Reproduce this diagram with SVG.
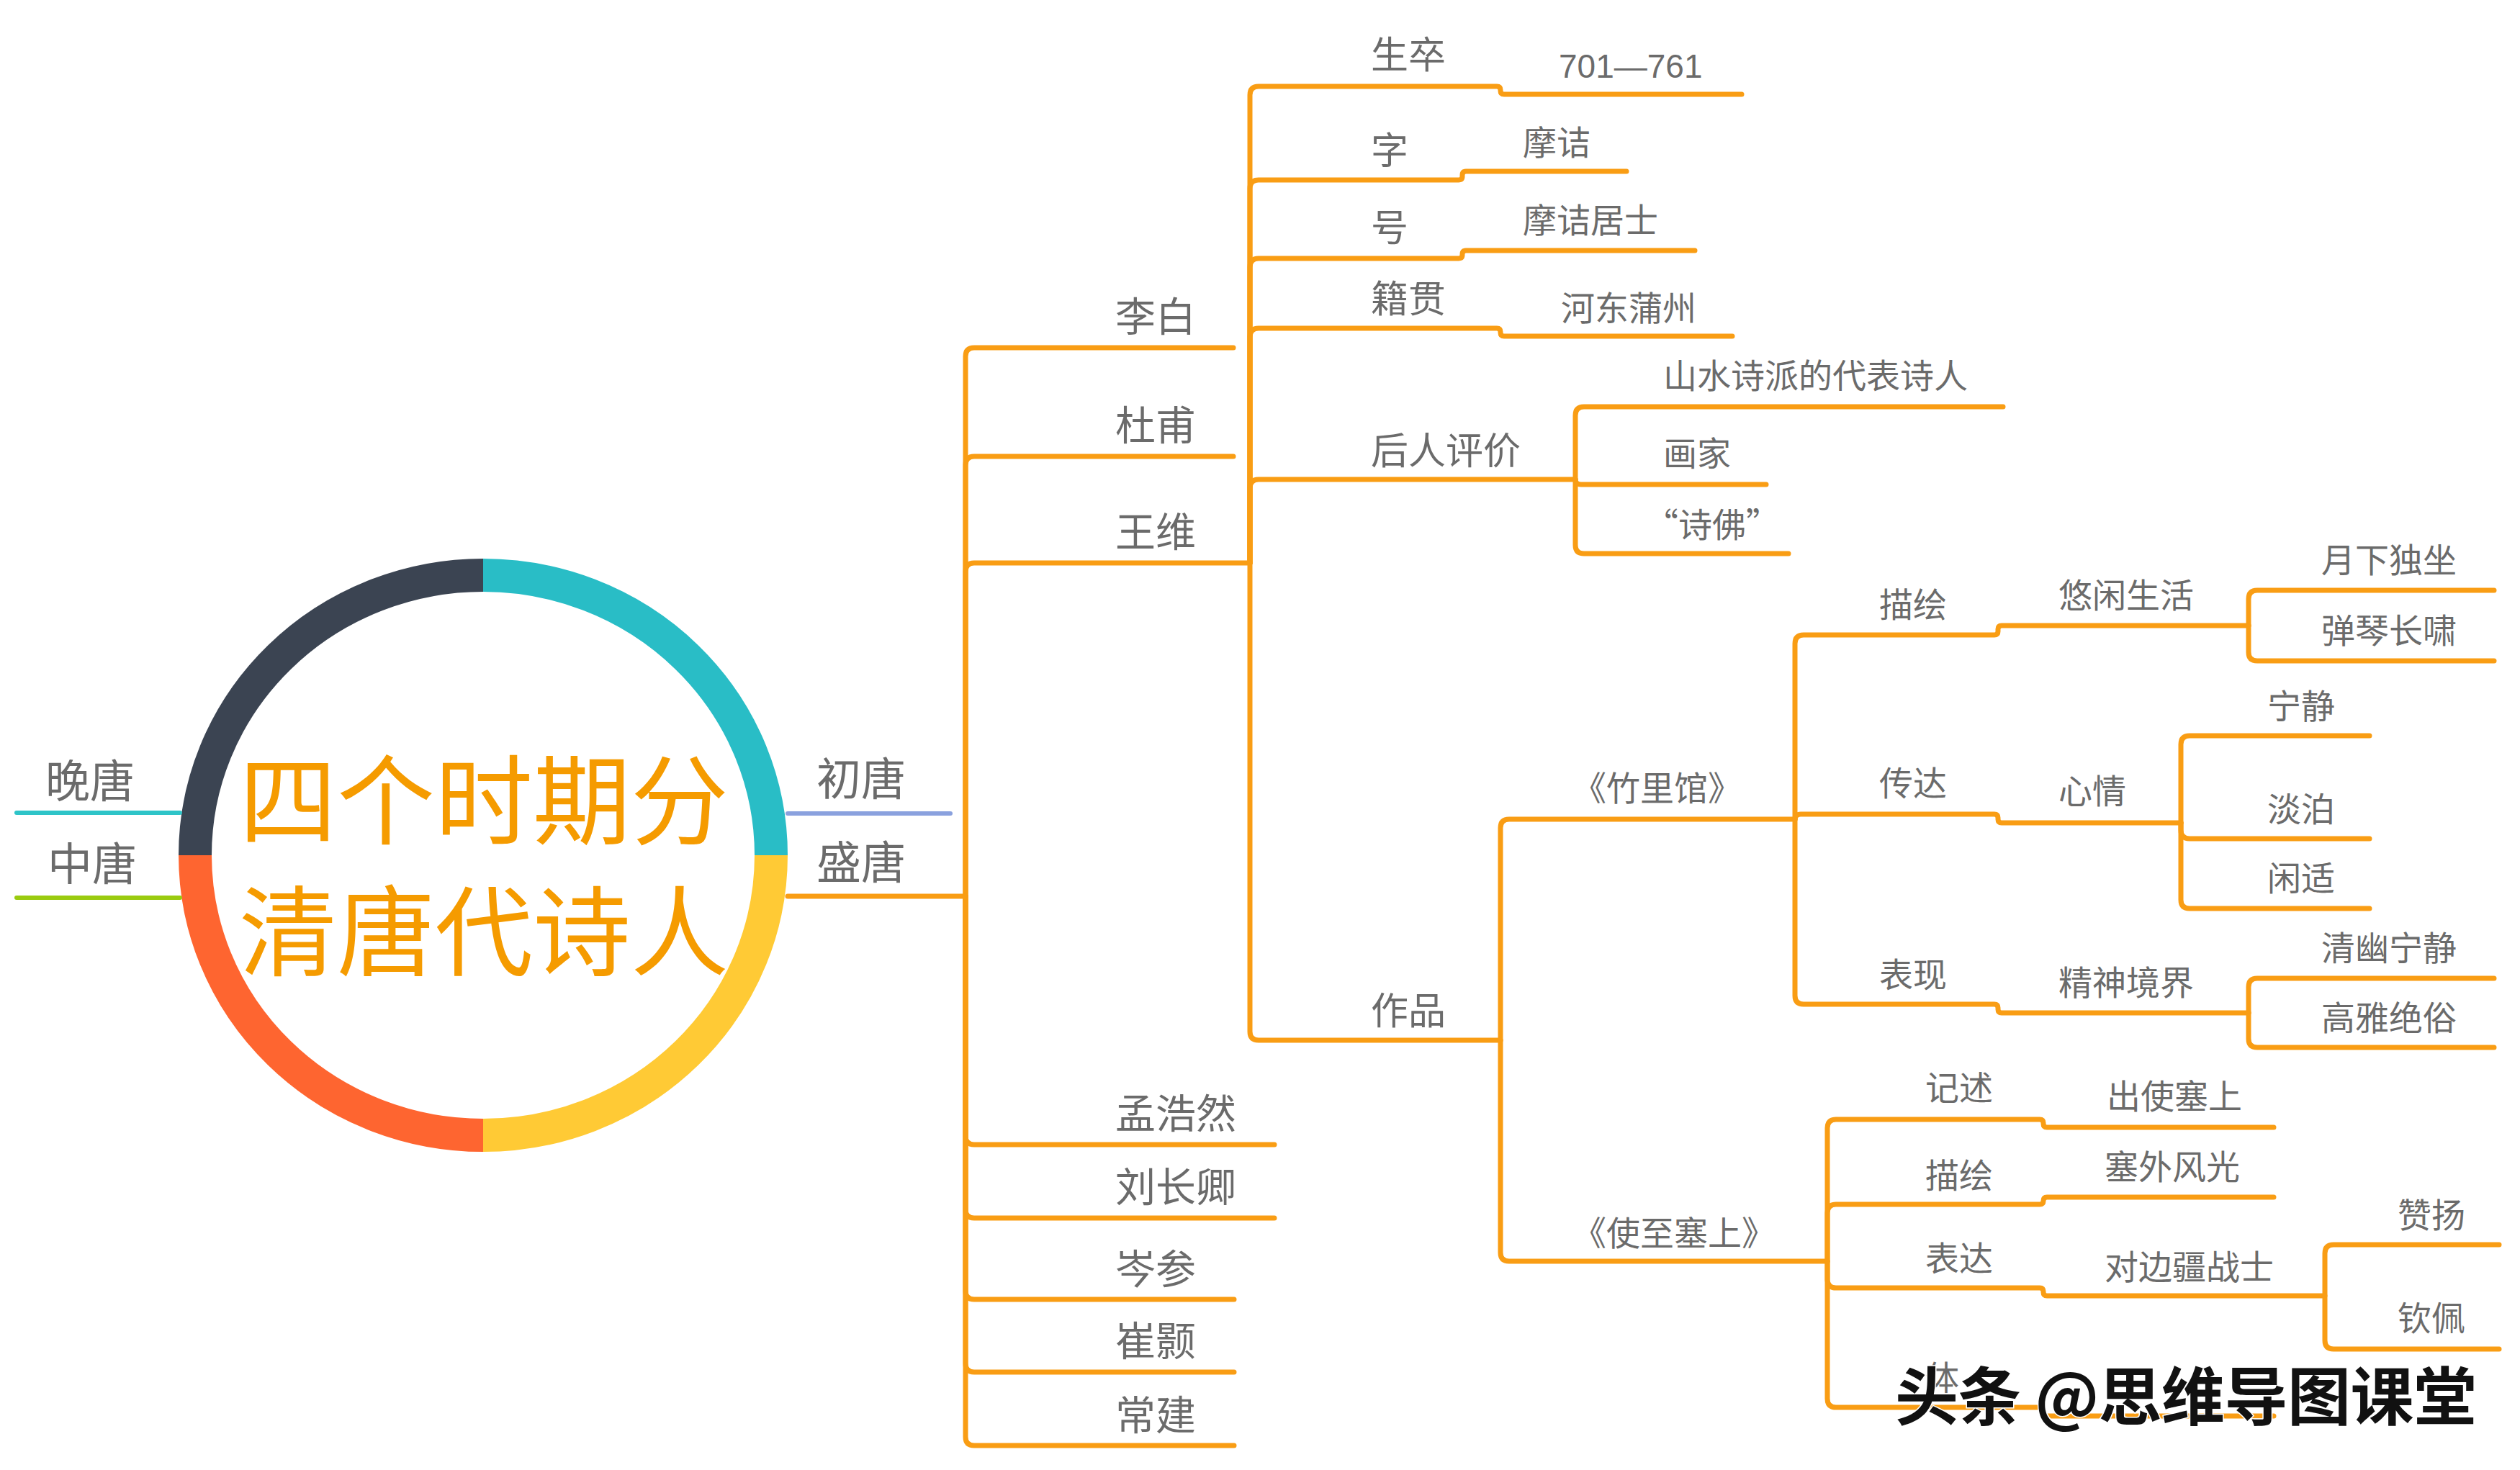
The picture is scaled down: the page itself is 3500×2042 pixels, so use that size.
<svg xmlns="http://www.w3.org/2000/svg" width="3500" height="2042" viewBox="0 0 3500 2042">
<style>
.ln{fill:none;stroke:#F99D14;stroke-width:7;stroke-linecap:round;stroke-linejoin:round}
.t{font-family:"Noto Sans CJK SC","Noto Sans CJK JP",sans-serif;fill:#6B6B6B}
.s1{font-size:62px}.s2{font-size:56px}.s3{font-size:52px}.s4{font-size:47px}
.ring{fill:none;stroke-width:46}
</style>
<rect width="3500" height="2042" fill="#FFFFFF"/>
<g id="center">
<path class="ring" stroke="#29BDC6" d="M671 799 A400 389 0 0 1 1071 1188"/>
<path class="ring" stroke="#FFCA35" d="M1071 1188 A400 389 0 0 1 671 1577"/>
<path class="ring" stroke="#FE6530" d="M671 1577 A400 389 0 0 1 271 1188"/>
<path class="ring" stroke="#3B4452" d="M271 1188 A400 389 0 0 1 671 799"/>
<text x="672" y="1163" text-anchor="middle" font-family="Noto Sans CJK SC,sans-serif" font-size="136" fill="#F59B00">四个时期分</text>
<text x="672" y="1345" text-anchor="middle" font-family="Noto Sans CJK SC,sans-serif" font-size="136" fill="#F59B00">清唐代诗人</text>
</g>
<g id="connectors">
<path d="M23 1129 H250" fill="none" stroke="#2EC4C8" stroke-width="6" stroke-linecap="round"/>
<path d="M23 1247 H250" fill="none" stroke="#9ACB0F" stroke-width="6" stroke-linecap="round"/>
<path d="M1094 1130 H1320" fill="none" stroke="#8AA1DE" stroke-width="6" stroke-linecap="round"/>
<path class="ln" d="M1094 1245 H1341"/>
<path class="ln" d="M1341 1245 V495 Q1341 483 1353 483 H1713"/>
<path class="ln" d="M1341 1245 V646 Q1341 634 1353 634 H1713"/>
<path class="ln" d="M1341 1245 V794 Q1341 782 1353 782 H1736"/>
<path class="ln" d="M1341 1245 V1578 Q1341 1590 1353 1590 H1770"/>
<path class="ln" d="M1341 1245 V1680 Q1341 1692 1353 1692 H1770"/>
<path class="ln" d="M1341 1245 V1793 Q1341 1805 1353 1805 H1714"/>
<path class="ln" d="M1341 1245 V1894 Q1341 1906 1353 1906 H1714"/>
<path class="ln" d="M1341 1245 V1996 Q1341 2008 1353 2008 H1714"/>
<path class="ln" d="M1736 782 V132 Q1736 120 1748 120 H2079 Q2084 120 2084 125 V126 Q2084 131 2089 131 H2419"/>
<path class="ln" d="M1736 782 V262 Q1736 250 1748 250 H2026 Q2031 250 2031 245 V243 Q2031 238 2036 238 H2259"/>
<path class="ln" d="M1736 782 V371 Q1736 359 1748 359 H2026 Q2031 359 2031 354 V353 Q2031 348 2036 348 H2354"/>
<path class="ln" d="M1736 782 V468 Q1736 456 1748 456 H2079 Q2084 456 2084 461 V462 Q2084 467 2089 467 H2406"/>
<path class="ln" d="M1736 782 V678 Q1736 666 1748 666 H2188"/>
<path class="ln" d="M1736 782 V1433 Q1736 1445 1748 1445 H2084"/>
<path class="ln" d="M2188 666 V577 Q2188 565 2200 565 H2782"/>
<path class="ln" d="M2188 666 Q2188 673 2196 673 H2453"/>
<path class="ln" d="M2188 666 V757 Q2188 769 2200 769 H2484"/>
<path class="ln" d="M2084 1445 V1150 Q2084 1138 2096 1138 H2493"/>
<path class="ln" d="M2084 1445 V1740 Q2084 1752 2096 1752 H2538"/>
<path class="ln" d="M2493 1138 V894 Q2493 882 2505 882 H2770 Q2775 882 2775 877 V874 Q2775 869 2780 869 H3123"/>
<path class="ln" d="M2493 1138 Q2493 1131 2501 1131 H2770 Q2775 1131 2775 1136 V1138 Q2775 1143 2780 1143 H3029"/>
<path class="ln" d="M2493 1138 V1383 Q2493 1395 2505 1395 H2770 Q2775 1395 2775 1400 V1402 Q2775 1407 2780 1407 H3123"/>
<path class="ln" d="M3123 869 V832 Q3123 820 3135 820 H3464"/>
<path class="ln" d="M3123 869 V906 Q3123 918 3135 918 H3464"/>
<path class="ln" d="M3029 1143 V1034 Q3029 1022 3041 1022 H3291"/>
<path class="ln" d="M3029 1143 V1153 Q3029 1165 3041 1165 H3291"/>
<path class="ln" d="M3029 1143 V1250 Q3029 1262 3041 1262 H3291"/>
<path class="ln" d="M3123 1407 V1371 Q3123 1359 3135 1359 H3464"/>
<path class="ln" d="M3123 1407 V1443 Q3123 1455 3135 1455 H3464"/>
<path class="ln" d="M2538 1752 V1567 Q2538 1555 2550 1555 H2833 Q2838 1555 2838 1560 V1561 Q2838 1566 2843 1566 H3158"/>
<path class="ln" d="M2538 1752 V1685 Q2538 1673 2550 1673 H2833 Q2838 1673 2838 1668 Q2838 1663 2843 1663 H3158"/>
<path class="ln" d="M2538 1752 V1777 Q2538 1789 2550 1789 H2833 Q2838 1789 2838 1794 V1795 Q2838 1800 2843 1800 H3226"/>
<path class="ln" d="M2538 1752 V1943 Q2538 1955 2550 1955 H2833 Q2838 1955 2838 1960 V1962 Q2838 1967 2843 1967 H3158"/>
<path class="ln" d="M3229 1800 V1741 Q3229 1729 3241 1729 H3471"/>
<path class="ln" d="M3229 1800 V1862 Q3229 1874 3241 1874 H3471"/>
</g>
<g id="n-wantang"><text class="t s1" x="63" y="1108">晚唐</text></g>
<g id="n-zhongtang"><text class="t s1" x="66" y="1223">中唐</text></g>
<g id="n-chutang"><text class="t s1" x="1134" y="1105">初唐</text></g>
<g id="n-shengtang"><text class="t s1" x="1134" y="1221">盛唐</text></g>
<g id="n-libai"><text class="t s2" x="1549" y="460">李白</text></g>
<g id="n-dufu"><text class="t s2" x="1549" y="611">杜甫</text></g>
<g id="n-wangwei"><text class="t s2" x="1549" y="759">王维</text></g>
<g id="n-menghaoran"><text class="t s2" x="1549" y="1567">孟浩然</text></g>
<g id="n-liuchangqing"><text class="t s2" x="1549" y="1669">刘长卿</text></g>
<g id="n-censhen"><text class="t s2" x="1549" y="1783">岑参</text></g>
<g id="n-cuihao"><text class="t s2" x="1549" y="1883">崔颢</text></g>
<g id="n-changjian"><text class="t s2" x="1549" y="1986">常建</text></g>
<g id="n-shengzu"><text class="t s3" x="1904" y="95">生卒</text></g>
<g id="n-zi"><text class="t s3" x="1904" y="228">字</text></g>
<g id="n-hao"><text class="t s3" x="1904" y="335">号</text></g>
<g id="n-jiguan"><text class="t s3" x="1904" y="434">籍贯</text></g>
<g id="n-pingjia"><text class="t s3" x="1904" y="645">后人评价</text></g>
<g id="n-zuopin"><text class="t s3" x="1904" y="1423">作品</text></g>
<g id="n-years"><text x="2165" y="108" font-family="Liberation Sans,Arial,sans-serif" font-size="46" fill="#6B6B6B">701—761</text></g>
<g id="n-mojie"><text class="t s4" x="2115" y="215">摩诘</text></g>
<g id="n-mojiejushi"><text class="t s4" x="2115" y="323">摩诘居士</text></g>
<g id="n-hedong"><text class="t s4" x="2168" y="445">河东蒲州</text></g>
<g id="n-shanshui"><text class="t s4" x="2310" y="539">山水诗派的代表诗人</text></g>
<g id="n-huajia"><text class="t s4" x="2310" y="647">画家</text></g>
<g id="n-shifo"><text class="t s4" x="2284" y="746">“诗佛”</text></g>
<g id="n-zhuliguan"><text class="t s4" x="2184" y="1112">《竹里馆》</text></g>
<g id="n-shizhisaishang"><text class="t s4" x="2184" y="1730">《使至塞上》</text></g>
<g id="n-miaohui1"><text class="t s4" x="2610" y="857">描绘</text></g>
<g id="n-youxian"><text class="t s4" x="2859" y="844">悠闲生活</text></g>
<g id="n-yuexia"><text class="t s4" x="3224" y="795">月下独坐</text></g>
<g id="n-tanqin"><text class="t s4" x="3224" y="893">弹琴长啸</text></g>
<g id="n-chuanda"><text class="t s4" x="2610" y="1105">传达</text></g>
<g id="n-xinqing"><text class="t s4" x="2859" y="1116">心情</text></g>
<g id="n-ningjing"><text class="t s4" x="3149" y="998">宁静</text></g>
<g id="n-danbo"><text class="t s4" x="3149" y="1141">淡泊</text></g>
<g id="n-xianshi"><text class="t s4" x="3149" y="1237">闲适</text></g>
<g id="n-biaoxian"><text class="t s4" x="2610" y="1371">表现</text></g>
<g id="n-jingshen"><text class="t s4" x="2859" y="1382">精神境界</text></g>
<g id="n-qingyou"><text class="t s4" x="3224" y="1334">清幽宁静</text></g>
<g id="n-gaoya"><text class="t s4" x="3224" y="1431">高雅绝俗</text></g>
<g id="n-jishu"><text class="t s4" x="2674" y="1528">记述</text></g>
<g id="n-chushi"><text class="t s4" x="2926" y="1540">出使塞上</text></g>
<g id="n-miaohui2"><text class="t s4" x="2674" y="1650">描绘</text></g>
<g id="n-saiwai"><text class="t s4" x="2923" y="1638">塞外风光</text></g>
<g id="n-biaoda"><text class="t s4" x="2674" y="1765">表达</text></g>
<g id="n-duibian"><text class="t s4" x="2923" y="1777">对边疆战士</text></g>
<g id="n-zanyang"><text class="t s4" x="3330" y="1705">赞扬</text></g>
<g id="n-qinpei"><text class="t s4" x="3330" y="1848">钦佩</text></g>
<g id="n-ti"><text class="t s4" x="2674" y="1931">体</text></g>
<g id="watermark"><text x="2632" y="1972" font-family="Noto Sans CJK SC,sans-serif" font-size="88" font-weight="bold" fill="#111111" stroke="#FFFFFF" stroke-width="3" paint-order="stroke" textLength="808" lengthAdjust="spacing">头条 @思维导图课堂</text></g>
</svg>
